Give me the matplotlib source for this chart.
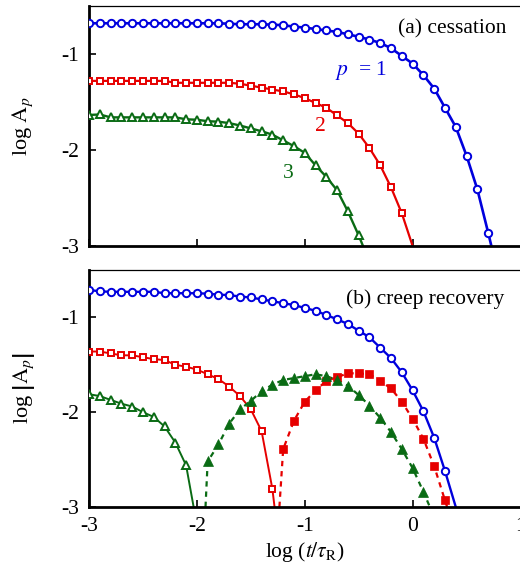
import numpy as np
import matplotlib
matplotlib.use("Agg")
import matplotlib.pyplot as plt

plt.rcParams['font.family'] = ['Liberation Serif', 'DejaVu Serif']
plt.rcParams['mathtext.fontset'] = 'stix'

# ---------------- data: panel (a) cessation ----------------
x_a1 = np.round(np.arange(-3.0, 0.71, 0.1), 1)
y_a1 = [-0.68, -0.68, -0.68, -0.68, -0.68, -0.68, -0.68, -0.68, -0.68, -0.68,
        -0.68, -0.68, -0.68, -0.685, -0.69, -0.69, -0.69, -0.695, -0.70, -0.715,
        -0.725, -0.74, -0.755, -0.77, -0.795, -0.82, -0.85, -0.885, -0.94, -1.02,
        -1.10, -1.22, -1.36, -1.56, -1.76, -2.06, -2.41, -2.86]
end_a1 = 0.73

x_a2 = np.round(np.arange(-3.0, -0.09, 0.1), 1)
y_a2 = [-1.28, -1.28, -1.28, -1.28, -1.28, -1.28, -1.28, -1.28,
        -1.30, -1.30, -1.30, -1.30, -1.30, -1.30,
        -1.31, -1.33, -1.35, -1.37, -1.39, -1.42, -1.46, -1.51, -1.56, -1.64,
        -1.72, -1.83, -1.98, -2.16, -2.39, -2.66]
end_a2 = 0.0

x_a3 = np.round(np.arange(-3.0, -0.49, 0.1), 1)
y_a3 = [-1.635, -1.63, -1.66, -1.66, -1.66, -1.66, -1.66, -1.66, -1.66,
        -1.68, -1.685, -1.70, -1.705, -1.72, -1.745, -1.775, -1.805, -1.84,
        -1.90, -1.96, -2.03, -2.16, -2.28, -2.42, -2.64, -2.89]
end_a3 = -0.46

# ---------------- data: panel (b) creep recovery ----------------
x_b1 = np.round(np.arange(-3.0, 0.31, 0.1), 1)
y_b1 = [-0.71, -0.725, -0.73, -0.73, -0.73, -0.73, -0.73, -0.745, -0.745, -0.745,
        -0.745, -0.75, -0.76, -0.765, -0.78, -0.79, -0.81, -0.83, -0.85, -0.87,
        -0.90, -0.93, -0.975, -1.02, -1.07, -1.14, -1.21, -1.32, -1.43, -1.58,
        -1.77, -1.99, -2.27, -2.62]
end_b1 = 0.40

x_b2 = np.round(np.arange(-3.0, -1.29, 0.1), 1)
y_b2 = [-1.36, -1.36, -1.38, -1.40, -1.40, -1.42, -1.44, -1.45, -1.50, -1.52,
        -1.55, -1.60, -1.65, -1.73, -1.83, -1.97, -2.20, -2.81]
end_b2 = -1.28

x_b3 = np.round(np.arange(-3.0, -2.09, 0.1), 1)
y_b3 = [-1.81, -1.83, -1.87, -1.91, -1.94, -2.00, -2.05, -2.15, -2.32, -2.56]
end_b3 = -2.03

x_b2n = np.round(np.arange(-1.2, 0.31, 0.1), 1)
y_b2n = [-2.39, -2.09, -1.89, -1.77, -1.67, -1.63, -1.59, -1.59, -1.60, -1.67,
         -1.75, -1.89, -2.07, -2.28, -2.57, -2.93]
start_b2n, end_b2n = -1.235, 0.32

x_b3n = np.round(np.arange(-1.9, 0.11, 0.1), 1)
y_b3n = [-2.52, -2.34, -2.12, -1.97, -1.88, -1.78, -1.71, -1.66, -1.64, -1.62,
         -1.60, -1.62, -1.66, -1.72, -1.82, -1.93, -2.06, -2.21, -2.39, -2.59, -2.84]
start_b3n, end_b3n = -1.92, 0.16

xticks = [-3, -2, -1, 0, 1]
yticks = [-3, -2, -1]

BLUE = '#0000dd'
RED = '#e60000'
GREEN = '#0a6b14'

fig = plt.figure(figsize=(5.2, 5.76), dpi=100)
W, H = 520.0, 576.0
left = 89 / W
right = 520.5 / W
axa = fig.add_axes([left, 1 - 246 / H, right - left, (246 - 6) / H])
axb = fig.add_axes([left, 1 - 507 / H, right - left, (507 - 270) / H])

def tail(x, y, end):
    return np.r_[x, end], np.r_[y, -3.0]

def head_tail(x, y, start, end):
    return np.r_[start, x, end], np.r_[-3.0, y, -3.0]

# panel a
for x, y, end, c, m, ms, lw in [
        (x_a1, y_a1, end_a1, BLUE, 'o', 5.3, 1.9),
        (x_a2, y_a2, end_a2, RED, 's', 5.0, 1.6),
        (x_a3, y_a3, end_a3, GREEN, '^', 6.3, 1.7)]:
    lx, ly = tail(x, y, end)
    axa.plot(lx, ly, '-', color=c, lw=lw, zorder=2)
    axa.plot(x, y, m, ms=ms, mfc='white', mec=c, mew=1.4, ls='none', zorder=3)

# panel b
for x, y, end, c, m, ms, lw in [
        (x_b1, y_b1, end_b1, BLUE, 'o', 5.3, 1.7),
        (x_b2, y_b2, end_b2, RED, 's', 5.0, 1.4),
        (x_b3, y_b3, end_b3, GREEN, '^', 6.3, 1.4)]:
    lx, ly = tail(x, y, end)
    axb.plot(lx, ly, '-', color=c, lw=lw, zorder=2)
    axb.plot(x, y, m, ms=ms, mfc='white', mec=c, mew=1.4, ls='none', zorder=3)

for x, y, s, e, c, m, ms in [
        (x_b2n, y_b2n, start_b2n, end_b2n, RED, 's', 6.0),
        (x_b3n, y_b3n, start_b3n, end_b3n, GREEN, '^', 7.0)]:
    lx, ly = head_tail(x, y, s, e)
    axb.plot(lx, ly, '-', color=c, lw=1.6, dashes=(2.4, 2.2), zorder=2)
    axb.plot(x, y, m, ms=ms, mfc=c, mec=c, mew=0.5, ls='none', zorder=3)

for ax in (axa, axb):
    ax.set_xlim(-3, 1)
    ax.set_ylim(-3, -0.5)
    ax.set_xticks(xticks)
    ax.set_yticks(yticks)
    ax.tick_params(direction='in', length=5, width=1.2, labelsize=15.5,
                   top=False, right=False, pad=7)
    ax.spines['left'].set_linewidth(2.0)
    ax.spines['bottom'].set_linewidth(2.0)
    ax.spines['top'].set_linewidth(0.9)
    ax.spines['right'].set_visible(False)
    for sp in ax.spines.values():
        sp.set_clip_on(False)

axa.tick_params(labelbottom=False)
axa.set_yticklabels(['-3', '-2', '-1'])
axb.set_yticklabels(['-3', '-2', '-1'])
axb.set_xticklabels(['-3', '-2', '-1', '0', '1'])

axa.set_ylabel(r'log $\mathrm{A}_{p}$', fontsize=16)
axb.set_ylabel(r'log $\left|\mathrm{A}_{p}\right|$', fontsize=16)
axb.set_xlabel(r'log ($t/\tau_{\mathrm{R}}$)', fontsize=15.5, labelpad=3)
axa.yaxis.set_label_coords(-0.125, 0.5)
axb.yaxis.set_label_coords(-0.12, 0.5)

axa.text(0.967, 0.905, '(a) cessation', transform=axa.transAxes, fontsize=15.5,
         ha='right', va='center')
axb.text(0.962, 0.875, '(b) creep recovery', transform=axb.transAxes, fontsize=15.5,
         ha='right', va='center')

axa.text(-0.72, -1.17, r'$p$  = 1', color=BLUE, fontsize=15.5, ha='left', va='center')
axa.text(-0.855, -1.76, '2', color=RED, fontsize=15.5, ha='center', va='center')
axa.text(-1.15, -2.24, '3', color=GREEN, fontsize=15.5, ha='center', va='center')

fig.savefig('out.png', dpi=100)
